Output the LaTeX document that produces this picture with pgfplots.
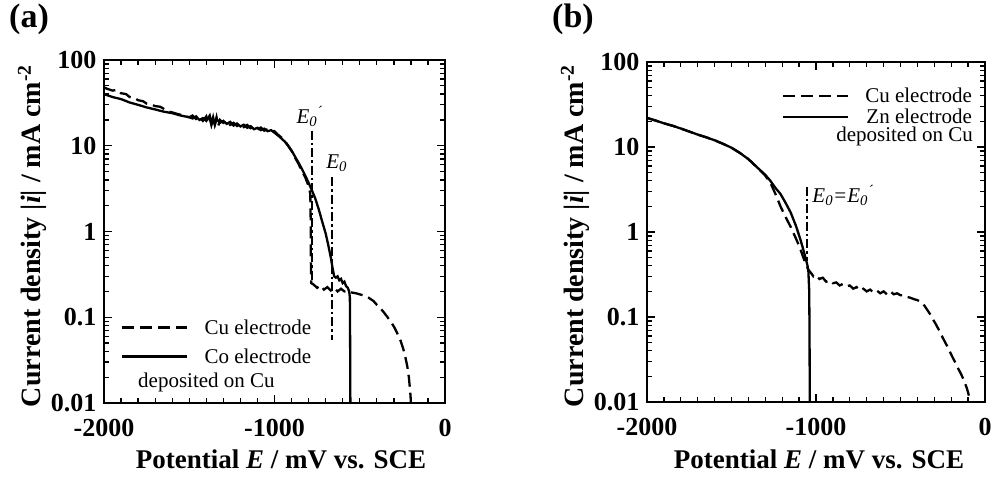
\documentclass[border=0pt]{standalone}
\usepackage{pgfplots}
\pgfplotsset{compat=1.18}
\usepackage{fontspec}
\setmainfont{Liberation Serif}

\tikzset{
  cuLine/.style={black, line width=2.3pt, dash pattern=on 12pt off 6pt},
  soLine/.style={black, line width=2.3pt},
  ddLine/.style={black, line width=1.8pt, dash pattern=on 9pt off 3pt on 2.5pt off 3pt},
  tkStyle/.style={black, line width=1.3pt, line cap=butt},
}
\pgfplotsset{
  panelStyle/.style={
    scale only axis,
    clip=false,
    xmin=-2000, xmax=0, ymin=0.01, ymax=100,
    xtick={-2000,-1000,0}, xticklabels={-2000,-1000,0},
    ytick={0.01,0.1,1,10,100}, yticklabels={0.01,0.1,1,10,100},
    minor x tick num=9,
    ticklabel style={font=\fontsize{26}{26}\selectfont\bfseries},
    xticklabel style={yshift=-13pt},
    yticklabel style={xshift=-4pt},
    major tick length=8pt, minor tick length=5pt,
    every tick/.append style={line width=1.3pt},
    axis line style={line width=2pt},
    legend image code/.code={\draw[##1] (0pt,0pt) -- (65pt,0pt); \path (73pt,0pt);},
  },
}

% tick marks along the frame of a panel (x0, y0, width, height in pt)
\newcommand\boxticks[4]{%
  \foreach \tkK in {1,...,9,11,12,...,19} {
    \draw[tkStyle] (#1pt+#3pt*\tkK/20, #2pt) -- ++(0pt,5pt);
    \draw[tkStyle] (#1pt+#3pt*\tkK/20, #2pt+#4pt) -- ++(0pt,-5pt);
  }
  \draw[tkStyle] (#1pt+#3pt/2, #2pt) -- ++(0pt,8pt);
  \draw[tkStyle] (#1pt+#3pt/2, #2pt+#4pt) -- ++(0pt,-8pt);
  \foreach \tkD in {0,1,2,3} {
    \foreach \tkM in {0.30103,0.47712,0.60206,0.69897,0.77815,0.84510,0.90309,0.95424} {
      \draw[tkStyle] (#1pt, #2pt+#4pt*\tkD/4+#4pt*\tkM/4) -- ++(5pt,0pt);
      \draw[tkStyle] (#1pt+#3pt, #2pt+#4pt*\tkD/4+#4pt*\tkM/4) -- ++(-5pt,0pt);
    }
  }
  \foreach \tkD in {1,2,3} {
    \draw[tkStyle] (#1pt, #2pt+#4pt*\tkD/4) -- ++(8pt,0pt);
    \draw[tkStyle] (#1pt+#3pt, #2pt+#4pt*\tkD/4) -- ++(-8pt,0pt);
  }
}

\begin{document}
\begin{tikzpicture}

% ---------------- panel (a)
\begin{axis}[ymode=log, panelStyle, at={(104pt,77pt)}, anchor=south west, width=341pt, height=343pt,
  legend style={at={(rel axis cs:0.05,0.25)}, anchor=north west, draw=none, fill=none,
    font=\fontsize{21}{21}\selectfont, row sep=9pt, column sep=6pt, inner sep=0pt},
  legend cell align=left]
\addplot[cuLine] coordinates {
(-2000,48) (-1980,46) (-1950,44) (-1920,45) (-1900,41) (-1870,40) (-1850,37) (-1820,36)
(-1800,34) (-1770,33) (-1750,31) (-1720,30) (-1700,29) (-1670,28.5) (-1650,27) (-1620,25)
(-1600,24.5) (-1570,23.5) (-1550,23) (-1520,22) (-1500,21.5) (-1480,22.5) (-1460,20.5)
(-1440,21.5) (-1420,19.5) (-1400,22) (-1390,18.5) (-1380,21) (-1370,17.5) (-1360,20.5)
(-1350,18) (-1340,21.5) (-1330,17) (-1320,20) (-1300,18.5) (-1280,19.5) (-1260,17.5)
(-1240,18.5) (-1220,17) (-1200,18) (-1180,16.5) (-1160,17.5) (-1140,16) (-1120,16.8)
(-1100,15.5) (-1080,16.3) (-1060,15) (-1040,15.6) (-1020,14.5) (-1000,14.8) (-980,13.5)
(-960,12.5) (-940,11.5) (-920,10) (-900,8.7) (-880,7.3) (-860,6.2) (-840,5.1) (-820,4.3)
(-805,3.6) (-795,3.1) (-790,2.7) (-788,1.5) (-787,0.6) (-786,0.3) (-784,0.25) (-770,0.24)
(-750,0.22) (-730,0.235) (-710,0.21) (-690,0.225) (-670,0.205) (-650,0.22) (-630,0.2)
(-610,0.215) (-590,0.2) (-570,0.205) (-550,0.195) (-520,0.19) (-500,0.185) (-470,0.178)
(-450,0.17) (-420,0.155) (-400,0.14) (-380,0.128) (-360,0.115) (-340,0.102) (-320,0.09)
(-300,0.078) (-280,0.065) (-260,0.053) (-245,0.043) (-232,0.034) (-220,0.026) (-212,0.02)
(-206,0.015) (-202,0.012) (-200,0.01)
};
\addlegendentry{Cu electrode}
\addplot[soLine] coordinates {
(-2000,40) (-1950,37) (-1900,35) (-1850,32) (-1800,30) (-1750,28) (-1700,26.5) (-1650,25)
(-1600,24) (-1550,22.5) (-1500,21.5) (-1480,20.8) (-1460,22) (-1440,20) (-1420,21)
(-1400,19.5) (-1380,22.5) (-1370,18) (-1360,21.5) (-1350,17.5) (-1340,20.5) (-1320,18.5)
(-1300,19.5) (-1280,18) (-1260,19) (-1240,17.2) (-1220,18.2) (-1200,16.8) (-1180,17.6)
(-1160,16.2) (-1140,16.9) (-1120,15.6) (-1100,16.2) (-1080,15.2) (-1060,15.8) (-1040,14.8)
(-1020,15.2) (-1000,14.2) (-980,13.2) (-960,12.2) (-940,11.2) (-920,10) (-900,8.8)
(-880,7.5) (-860,6.4) (-840,5.4) (-820,4.5) (-800,3.7) (-780,3.0) (-760,2.4) (-740,1.8)
(-720,1.3) (-700,0.95) (-685,0.7) (-670,0.5) (-660,0.38) (-650,0.3) (-640,0.29) (-630,0.3)
(-620,0.27) (-610,0.28) (-600,0.25) (-590,0.26) (-580,0.23) (-570,0.22) (-562,0.2)
(-558,0.17) (-557,0.1) (-556,0.03) (-555,0.01)
};
\addlegendentry{Co electrode}
\addplot[ddLine, forget plot] coordinates {(-782,15) (-782,0.25)};
\addplot[ddLine, forget plot] coordinates {(-662,4.3) (-662,0.055)};
\node[anchor=west, inner sep=0pt, font=\fontsize{21}{21}\selectfont\itshape] at (axis cs:-872,22) {E\textsubscript{0}\textsuperscript{\char"00B4}};
\node[anchor=west, inner sep=0pt, font=\fontsize{21}{21}\selectfont\itshape] at (axis cs:-697,6.3) {E\textsubscript{0}};
\end{axis}

% ---------------- panel (b)
\begin{axis}[ymode=log, panelStyle, at={(647pt,78pt)}, anchor=south west, width=338pt, height=340pt,
  legend style={at={(rel axis cs:0.968,0.93)}, anchor=north east, draw=none, fill=none,
    font=\fontsize{21}{21}\selectfont, row sep=1pt, column sep=6pt, inner sep=0pt},
  legend cell align=right]
\addplot[cuLine] coordinates {
(-2000,22) (-1950,20.5) (-1900,19) (-1850,17.8) (-1800,16.5) (-1750,15.2) (-1700,14)
(-1650,13) (-1600,12) (-1550,10.9) (-1500,9.8) (-1450,8.5) (-1400,7.2) (-1350,5.8)
(-1300,4.6) (-1270,3.8) (-1240,2.8) (-1210,2.0) (-1180,1.5) (-1150,1.15) (-1120,0.85)
(-1095,0.65) (-1075,0.5) (-1060,0.42) (-1045,0.36) (-1030,0.33) (-1015,0.3) (-1000,0.31)
(-980,0.28) (-960,0.29) (-940,0.26) (-920,0.27) (-900,0.25) (-880,0.255) (-860,0.235)
(-840,0.245) (-820,0.23) (-800,0.235) (-780,0.215) (-760,0.225) (-740,0.205) (-720,0.215)
(-700,0.2) (-680,0.21) (-660,0.195) (-640,0.205) (-620,0.19) (-600,0.2) (-580,0.185)
(-560,0.2) (-540,0.185) (-520,0.19) (-500,0.18) (-480,0.18) (-460,0.172) (-440,0.168)
(-420,0.162) (-400,0.158) (-385,0.152) (-370,0.145) (-355,0.133) (-340,0.12) (-325,0.108)
(-310,0.095) (-295,0.085) (-280,0.075) (-265,0.066) (-250,0.057) (-235,0.05) (-220,0.044)
(-205,0.038) (-190,0.033) (-175,0.029) (-160,0.025) (-145,0.022) (-130,0.019) (-120,0.017)
(-110,0.015) (-100,0.013) (-94,0.0115) (-88,0.01)
};
\addlegendentry{Cu electrode}
\addplot[soLine] coordinates {
(-2000,22) (-1950,20.5) (-1900,19) (-1850,17.8) (-1800,16.5) (-1750,15.2) (-1700,14)
(-1650,13) (-1600,12) (-1550,10.9) (-1500,9.8) (-1450,8.5) (-1400,7.2) (-1350,5.8)
(-1300,4.7) (-1270,4.0) (-1240,3.3) (-1210,2.8) (-1180,2.2) (-1150,1.7) (-1120,1.2)
(-1095,0.85) (-1075,0.62) (-1060,0.48) (-1050,0.4) (-1045,0.34) (-1040,0.2) (-1038,0.05)
(-1037,0.01)
};
\addlegendentry{Zn electrode}
\addplot[ddLine, forget plot] coordinates {(-1055,3.4) (-1055,0.45)};
\node[anchor=west, inner sep=0pt, font=\fontsize{21}{21}\selectfont\itshape] at (axis cs:-1022,2.7) {E\textsubscript{0}=E\textsubscript{0}\textsuperscript{\char"00B4}};
\end{axis}

% ---------------- frame tick marks
\boxticks{104}{77}{341}{343}
\boxticks{647}{78}{338}{340}

% ---------------- extra legend lines
\node[anchor=base west, inner sep=0pt, font=\fontsize{21}{21}\selectfont] at (138pt,93pt) {deposited on Cu};
\node[anchor=base east, inner sep=0pt, font=\fontsize{21}{21}\selectfont] at (973pt,338pt) {deposited on Cu};

% ---------------- axis labels
\node[anchor=base, inner sep=0pt, font=\fontsize{27}{27}\selectfont\bfseries] at (281pt,12pt) {Potential \textit{E} / mV vs. SCE};
\node[anchor=base, inner sep=0pt, font=\fontsize{27}{27}\selectfont\bfseries] at (819pt,12pt) {Potential \textit{E} / mV vs. SCE};
\node[anchor=base, rotate=90, inner sep=0pt, font=\fontsize{28}{28}\selectfont\bfseries] at (40pt,244pt) {Current density |\textit{i}| / mA cm\textsuperscript{-2}};
\node[anchor=base, rotate=90, inner sep=0pt, font=\fontsize{28}{28}\selectfont\bfseries] at (583pt,244pt) {Current density |\textit{i}| / mA cm\textsuperscript{-2}};

\node[anchor=north west, inner sep=0pt, font=\fontsize{34}{34}\selectfont\bfseries] at (9pt,476pt) {(a)};
\node[anchor=north west, inner sep=0pt, font=\fontsize{34}{34}\selectfont\bfseries] at (552pt,476pt) {(b)};

\pgfresetboundingbox
\path[use as bounding box] (0pt,0pt) rectangle (994pt,480pt);
\end{tikzpicture}
\end{document}
